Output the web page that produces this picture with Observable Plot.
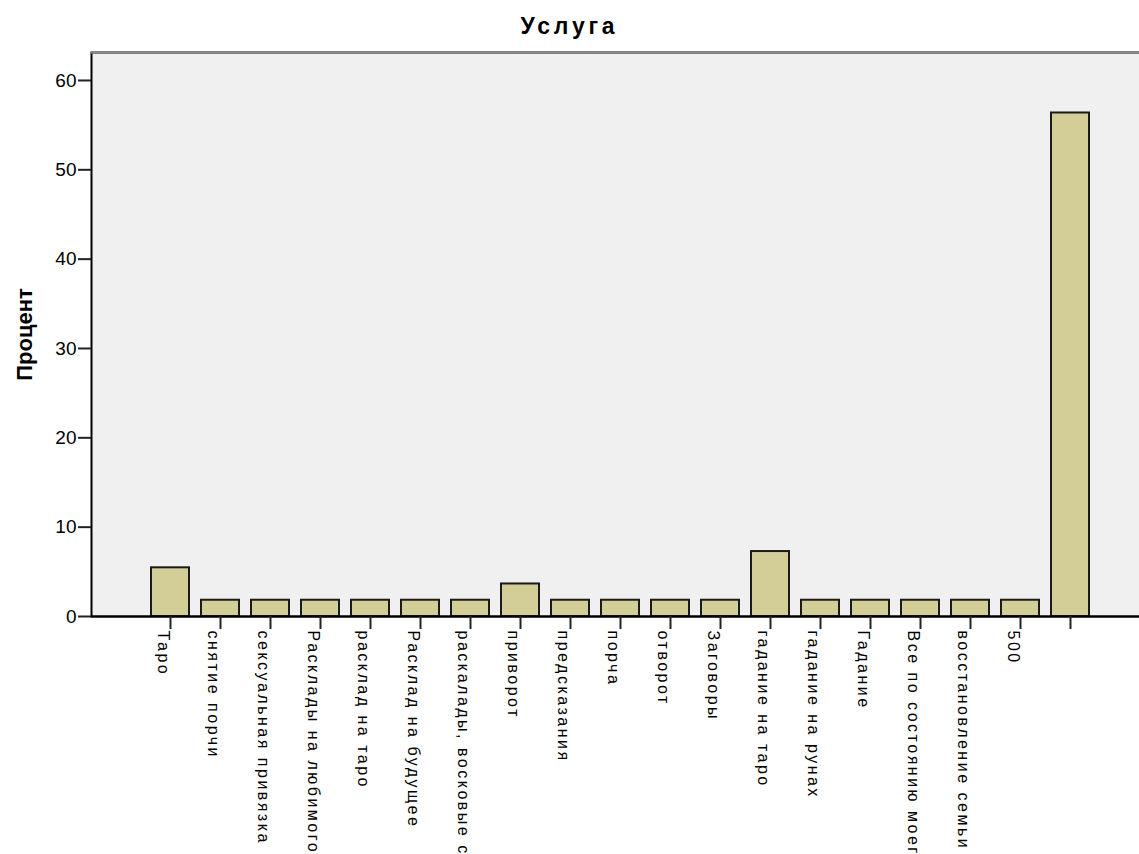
<!DOCTYPE html>
<html>
<head>
<meta charset="utf-8">
<script src="https://cdn.jsdelivr.net/npm/d3@7"></script>
<script src="https://cdn.jsdelivr.net/npm/@observablehq/plot@0.6"></script>
<style>
  html, body { margin: 0; padding: 0; background: #fff; overflow: hidden; }
  #wrap { position: relative; width: 1139px; height: 854px; }
  #title { position: absolute; top: 13px; left: 0; width: 1139px; text-align: center;
    font-family: "Liberation Sans", Arial, sans-serif; font-weight: bold; font-size: 23px;
    letter-spacing: 3.8px; color: #000; }
  #chart svg { display: block; }
  g[aria-label="x-axis tick label"] text { letter-spacing: 2.5px; }
</style>
</head>
<body>
<div id="wrap">
  <div id="chart"></div>
  <div id="title">Услуга</div>
</div>
<script>
const categories = [
  "Таро", "снятие порчи", "сексуальная привязка", "Расклады на любимого",
  "расклад на таро", "Расклад на будущее", "раскалады, восковые с",
  "приворот", "предсказания", "порча", "отворот", "Заговоры",
  "гадание на таро", "гадание на рунах", "Гадание",
  "Все по состоянию моег", "восстановление семьи", "500", ""
];
const percents = [
  5.45, 1.82, 1.82, 1.82,
  1.82, 1.82, 1.82,
  3.64, 1.82, 1.82, 1.82, 1.82,
  7.27, 1.82, 1.82,
  1.82, 1.82, 1.82, 56.36
];
const yTicks = [0, 10, 20, 30, 40, 50, 60];
const yLabel = "Процент";

const data = categories.map((c, i) => ({category: c, percent: percents[i]}));
const yMax = 63.13;

const chart = Plot.plot({
  width: 1139,
  height: 854,
  marginLeft: 91,
  marginRight: 0,
  marginTop: 52,
  marginBottom: 238,
  style: {fontFamily: '"Liberation Sans", Arial, sans-serif', background: "#fff", color: "#000"},
  x: {type: "band", domain: categories, range: [144, 1096], paddingInner: 0.24, paddingOuter: 0.12},
  y: {domain: [0, yMax]},
  marks: [
    Plot.frame({fill: "#f0f0f0", stroke: "#000", strokeWidth: 2, insetRight: -3}),
    Plot.ruleY([yMax], {stroke: "#8a8a8a", strokeWidth: 2}),
    Plot.barY(data, {x: "category", y: "percent", fill: "#d3ce97", stroke: "#1a1a1a", strokeWidth: 2}),
    Plot.ruleY([0], {stroke: "#000", strokeWidth: 2}),
    Plot.axisY({ticks: yTicks, tickSize: 13, tickPadding: 2, fontSize: 19, label: null,
      stroke: "#222", strokeWidth: 2, tickFormat: d => String(d)}),
    Plot.axisX({tickSize: 13, label: null, stroke: "#222", strokeWidth: 2, tickFormat: () => ""}),
    Plot.axisX({tickSize: 0, tickPadding: 14, tickRotate: 90, fontSize: 16, label: null,
      dx: -7, textOverflow: null}),
    Plot.text([yLabel], {frameAnchor: "left", dx: -67, rotate: -90, fontSize: 22, textAnchor: "middle",
      fontWeight: "bold", fill: "#000", text: d => d, letterSpacing: 1.5})
  ]
});
document.getElementById("chart").appendChild(chart);
</script>
</body>
</html>
